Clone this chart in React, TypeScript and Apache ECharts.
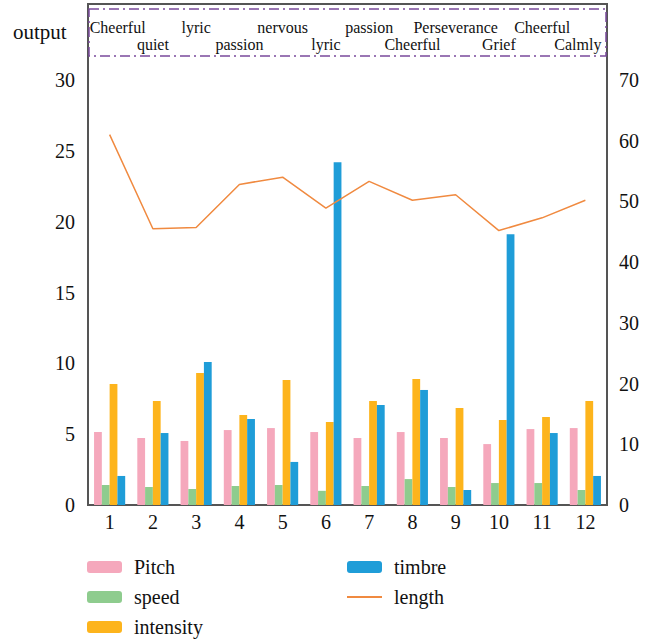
import React, { useEffect, useRef } from "react";
import * as echarts from "echarts";

const categories = ["1", "2", "3", "4", "5", "6", "7", "8", "9", "10", "11", "12"];
const moods = ["Cheerful", "quiet", "lyric", "passion", "nervous", "lyric", "passion", "Cheerful", "Perseverance", "Grief", "Cheerful", "Calmly"];
const pitch = [5.15, 4.73, 4.52, 5.29, 5.43, 5.15, 4.73, 5.15, 4.73, 4.3, 5.36, 5.43];
const speed = [1.41, 1.27, 1.13, 1.34, 1.41, 1.0, 1.34, 1.83, 1.27, 1.55, 1.55, 1.06];
const intensity = [8.54, 7.34, 9.31, 6.35, 8.82, 5.86, 7.34, 8.89, 6.85, 6.0, 6.21, 7.34];
const timbre = [2.05, 5.08, 10.09, 6.07, 3.04, 24.2, 7.06, 8.12, 1.06, 19.12, 5.08, 2.05];
const lengthVals = [61.0, 45.5, 45.7, 52.8, 54.0, 48.9, 53.3, 50.2, 51.1, 45.2, 47.3, 50.2];

const FONT = "Liberation Serif";

export default function App() {
  const ref = useRef<HTMLDivElement>(null);
  useEffect(() => {
    if (!ref.current) return;
    document.body.style.margin = "0";
    const chart = echarts.init(ref.current, null, { renderer: "svg" });
    const barBase = { type: "bar", barGap: "0%", barCategoryGap: "28%", yAxisIndex: 0, xAxisIndex: 0 };
    const last = moods.length - 1;
    chart.setOption({
      animation: false,
      textStyle: { fontFamily: FONT },
      grid: {
        left: 88, right: 41, top: 4, bottom: 137,
        show: true, borderColor: "#555", borderWidth: 2,
      },
      xAxis: [
        {
          type: "category", data: categories, position: "bottom",
          axisLine: { show: false }, axisTick: { show: false },
          axisLabel: { color: "#111", fontSize: 20, fontFamily: FONT, margin: 7 },
        },
        {
          type: "category", data: moods, position: "top",
          axisLine: { show: false }, axisTick: { show: false },
          axisLabel: {
            inside: true, interval: 0, margin: 15, color: "#111", fontSize: 16, fontFamily: FONT,
            hideOverlap: false, lineHeight: 17,
            formatter: (v: string, i: number) => {
              const tag = i === 0 ? "f" : i === last ? "l" : "m";
              return i % 2 === 0 ? "{" + tag + "|" + v + "}\n " : " \n{" + tag + "|" + v + "}";
            },
            rich: {
              f: { fontSize: 16, fontFamily: FONT, color: "#111", lineHeight: 17, padding: [0, 0, 0, 16] },
              l: { fontSize: 16, fontFamily: FONT, color: "#111", lineHeight: 17, padding: [0, 15, 0, 0] },
              m: { fontSize: 16, fontFamily: FONT, color: "#111", lineHeight: 17 },
            },
          },
        },
      ],
      yAxis: [
        {
          type: "value", min: 0, max: 30 * 501 / 425, interval: 5,
          splitLine: { show: false }, axisLine: { show: false }, axisTick: { show: false },
          axisLabel: { color: "#111", fontSize: 20, fontFamily: FONT, margin: 13,
            formatter: (v: number) => (v <= 30.001 ? String(v) : "") },
        },
        {
          type: "value", min: 0, max: 70 * 501 / 425, interval: 10,
          splitLine: { show: false }, axisLine: { show: false }, axisTick: { show: false },
          axisLabel: { color: "#111", fontSize: 20, fontFamily: FONT, margin: 12,
            formatter: (v: number) => (v <= 70.001 ? String(v) : "") },
        },
      ],
      legend: [
        {
          data: ["Pitch", "speed", "intensity"], orient: "vertical", left: 82, top: 552, height: 100,
          itemWidth: 35, itemHeight: 12, itemGap: 10,
          textStyle: { fontSize: 20, color: "#111", fontFamily: FONT, padding: [0, 0, 0, 7] },
        },
        {
          data: ["timbre", { name: "length", itemStyle: { opacity: 0 } }], orient: "vertical", left: 341, top: 552, height: 100,
          itemWidth: 35, itemHeight: 12, itemGap: 10,
          textStyle: { fontSize: 20, color: "#111", fontFamily: FONT, padding: [0, 0, 0, 7] },
        },
      ],
      graphic: [
        { type: "text", left: 13, top: 21, style: { text: "output", fontSize: 21, fontFamily: FONT, fill: "#111" } },
        {
          type: "rect", shape: { x: 89, y: 9, width: 517, height: 47 }, silent: true,
          style: { fill: "none", stroke: "#7a4a9c", lineWidth: 1.5, lineDash: [10, 4, 2, 4] },
        },
      ],
      series: [
        { ...barBase, name: "Pitch", data: pitch, itemStyle: { color: "#f5a8bc" } },
        { ...barBase, name: "speed", data: speed, itemStyle: { color: "#8ecc8e" } },
        { ...barBase, name: "intensity", data: intensity, itemStyle: { color: "#fdb41c" } },
        { ...barBase, name: "timbre", data: timbre, itemStyle: { color: "#1f9dd8" } },
        {
          type: "line", name: "length", data: lengthVals, yAxisIndex: 1, xAxisIndex: 0,
          symbol: "none", lineStyle: { color: "#f08a40", width: 1.5 }, itemStyle: { color: "#f08a40" },
        },
      ],
    });
    return () => chart.dispose();
  }, []);
  return <div ref={ref} style={{ width: 648, height: 642 }} />;
}
